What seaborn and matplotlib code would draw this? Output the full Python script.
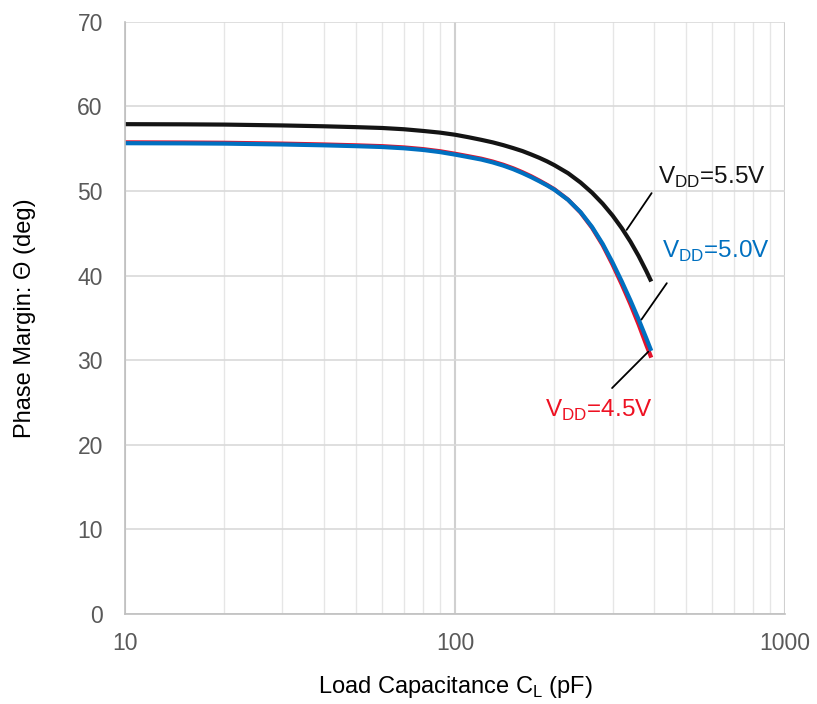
import numpy as np
import pandas as pd
import matplotlib
matplotlib.use("Agg")
import matplotlib.pyplot as plt
from matplotlib.ticker import FixedLocator, NullFormatter
import seaborn as sns

# Load capacitance (pF) sample points
cap_pf = [10, 15, 20, 30, 40, 50, 60, 70, 80, 90, 100, 110, 120, 130, 140, 150,
          160, 170, 180, 190, 200, 220, 240, 260, 280, 300, 320, 340, 360, 380, 393]

# Phase margin (deg) for each supply voltage
pm_55 = [57.9, 57.88, 57.85, 57.75, 57.65, 57.55, 57.45, 57.3, 57.1, 56.9, 56.65,
         56.35, 56.05, 55.75, 55.42, 55.07, 54.72, 54.32, 53.92, 53.5, 53.05,
         52.1, 51.0, 49.8, 48.5, 47.1, 45.6, 44.0, 42.3, 40.5, 39.3]
pm_50 = [55.65, 55.63, 55.6, 55.5, 55.4, 55.3, 55.2, 55.05, 54.85, 54.6, 54.3,
         54.0, 53.72, 53.38, 53.0, 52.58, 52.12, 51.64, 51.15, 50.66, 50.15,
         48.95, 47.5, 45.75, 43.75, 41.55, 39.3, 37.05, 34.8, 32.55, 31.1]
pm_45 = [55.75, 55.73, 55.7, 55.6, 55.5, 55.4, 55.3, 55.15, 54.95, 54.7, 54.4,
         54.1, 53.82, 53.48, 53.1, 52.68, 52.22, 51.74, 51.23, 50.72, 50.2,
         48.97, 47.45, 45.65, 43.6, 41.3, 38.95, 36.6, 34.2, 31.75, 30.3]

series_names = ["4.5V", "5.0V", "5.5V"]
series_colors = {"4.5V": "#e3132c", "5.0V": "#0070c0", "5.5V": "#141414"}

y_ticks = [0, 10, 20, 30, 40, 50, 60, 70]
x_ticks = [10, 100, 1000]
x_tick_labels = ["10", "100", "1000"]

df = pd.DataFrame({
    "cap": cap_pf * 3,
    "pm": pm_45 + pm_50 + pm_55,
    "vdd": ["4.5V"] * len(cap_pf) + ["5.0V"] * len(cap_pf) + ["5.5V"] * len(cap_pf),
})

sns.set_theme(style="white")
plt.rcParams["font.family"] = ["Liberation Sans", "DejaVu Sans"]
plt.rcParams["mathtext.fontset"] = "custom"
plt.rcParams["mathtext.rm"] = "Liberation Sans"

fig = plt.figure(figsize=(8.17, 7.04), dpi=100)
ax = fig.add_axes([0.153, 0.128, 0.808, 0.841])

sns.lineplot(data=df, x="cap", y="pm", hue="vdd", hue_order=series_names,
             palette=series_colors, linewidth=3.0, legend=False, ax=ax,
             estimator=None, sort=True)
for ln in ax.get_lines():
    ln.set_solid_joinstyle("round")
    ln.set_solid_capstyle("butt")

ax.set_xscale("log")
ax.set_xlim(10, 1000)
ax.set_ylim(0, 70)

# grid: major + minor verticals, horizontal every 10
ax.xaxis.set_minor_locator(FixedLocator([m * d for d in (10, 100) for m in range(2, 10)]))
ax.xaxis.set_minor_formatter(NullFormatter())
ax.set_xticks(x_ticks)
ax.set_xticklabels(x_tick_labels)
ax.set_yticks(y_ticks)
ax.grid(which="major", axis="y", color="#d9d9d9", linewidth=1.2)
ax.grid(which="major", axis="x", color="#d0d0d0", linewidth=1.5)
ax.grid(which="minor", axis="x", color="#e6e6e6", linewidth=1.0)
ax.set_axisbelow(True)

for side in ("top", "right"):
    ax.spines[side].set_visible(False)
for side in ("left", "bottom"):
    ax.spines[side].set_color("#bfbfbf")
    ax.spines[side].set_linewidth(1.2)

ax.tick_params(axis="both", which="both", length=0, labelsize=16.5, labelcolor="#595959")
ax.tick_params(axis="y", pad=16)
ax.tick_params(axis="x", pad=13)

ax.set_xlabel(r"Load Capacitance C$_\mathrm{L}$ (pF)", fontsize=17, color="#000000", labelpad=14)
ax.set_ylabel("Phase Margin: Θ (deg)", fontsize=17, color="#000000", labelpad=30)

# labels with leader lines
lead = dict(arrowstyle="-", color="#000000", linewidth=1.3, shrinkA=0, shrinkB=0)
ax.annotate("", xy=(331, 45.4), xytext=(394, 49.75), arrowprops=lead)
ax.annotate("", xy=(367, 34.8), xytext=(438, 39.1), arrowprops=lead)
ax.annotate("", xy=(385, 31.0), xytext=(299, 26.7), arrowprops=lead)

ax.text(412, 51.6, r"V$_\mathrm{DD}$=5.5V", color=series_colors["5.5V"], fontsize=17.5, va="center", ha="left")
ax.text(424, 42.8, r"V$_\mathrm{DD}$=5.0V", color=series_colors["5.0V"], fontsize=17.5, va="center", ha="left")
ax.text(187, 24.1, r"V$_\mathrm{DD}$=4.5V", color="#ee1122", fontsize=17.5, va="center", ha="left")

fig.savefig("out.png", dpi=100, facecolor="white")
